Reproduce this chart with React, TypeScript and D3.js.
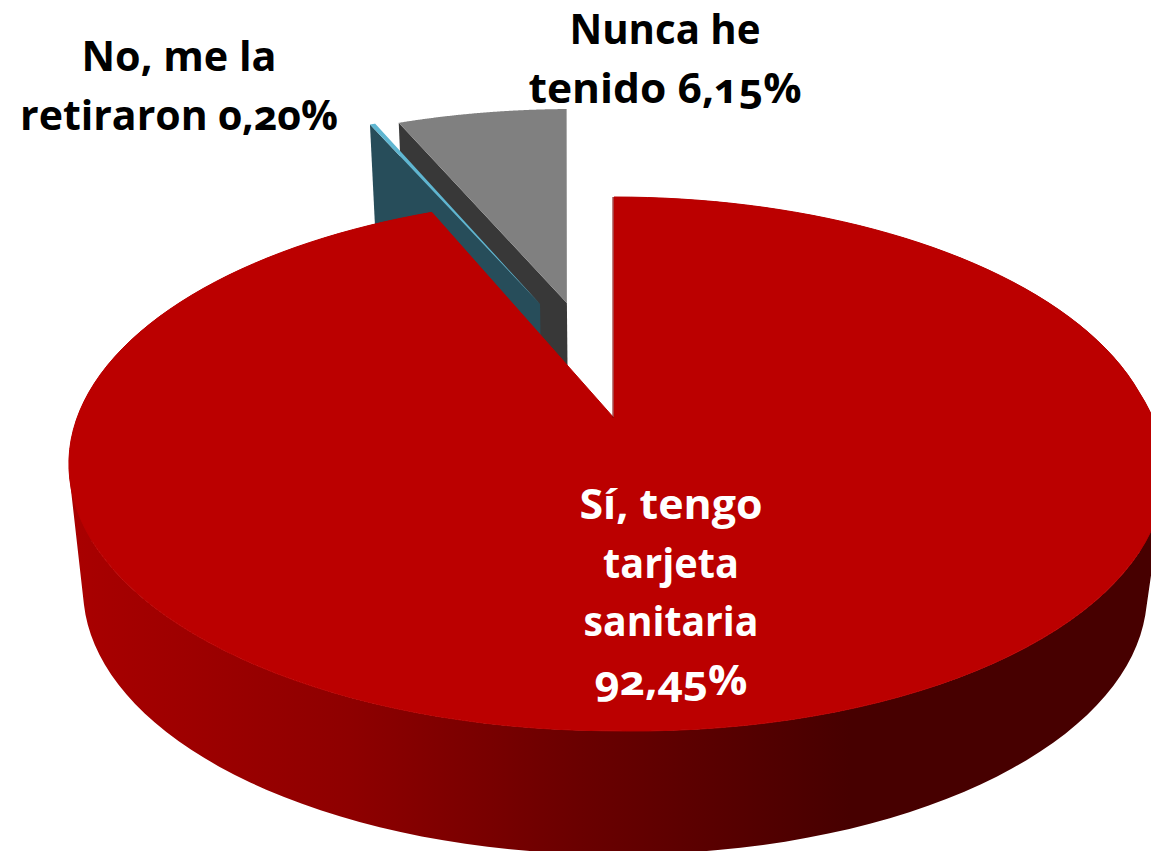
import React, { useEffect, useRef } from "react";
import * as d3 from "d3";

const categories = ["Sí, tengo tarjeta sanitaria", "No, me la retiraron", "Nunca he tenido"];
const values = [92.45, 0.2, 6.15];
const labelLines = [
  ["Sí, tengo", "tarjeta", "sanitaria", "92,45%"],
  ["No, me la", "retiraron 0,20%"],
  ["Nunca he", "tenido 6,15%"],
];

const width = 1151, height = 851;
const topFill = ["#bb0000", "#5fb6d1", "#808080"];
const wallFill = ["url(#rimShade)", "#274d5a", "#383838"];
// pull-out of each slice on the unit disc, x then toward the viewer
const offsets = [[0, 0], [-0.149, -0.476], [-0.095, -0.481]];
const tilt = [0, (-0.9 * Math.PI) / 180, (-0.9 * Math.PI) / 180];
const radius = [1, 1.02, 1.02];
const labelX = [671, 179, 665];
const labelY = [519, 71, 44];
const labelFill = ["#ffffff", "#000000", "#000000"];
const lineWidths = [[183, 136, 175, 153], [195, 318], [191, 273]];
const lineGap = 58.5;

const cx = 614, persp = 0.172;
const face = { y: 418, rx: 537, ry: 259, bulge: 0.035 };
const base = { y: 544, rx: 523, ry: 257, bulge: 0.015 };

// the disc is drawn a little fuller on its front right quarter
function project(plane: typeof face, u: number, v: number): [number, number] {
  const w = 1 - persp * v;
  const b = 1 + plane.bulge * Math.max(0, u) * Math.max(0, v + 0.1);
  return [cx + (b * plane.rx * u) / w, plane.y + (b * plane.ry * v) / w];
}

export default function App() {
  const ref = useRef<SVGSVGElement>(null);

  useEffect(() => {
    const svg = d3.select(ref.current);
    svg.selectAll("*").remove();

    const grad = svg.append("defs").append("linearGradient")
      .attr("id", "rimShade").attr("gradientUnits", "userSpaceOnUse")
      .attr("x1", 80).attr("x2", 850).attr("y1", 0).attr("y2", 0);
    grad.append("stop").attr("offset", 0).attr("stop-color", "#a80000");
    grad.append("stop").attr("offset", 0.35).attr("stop-color", "#8e0000");
    grad.append("stop").attr("offset", 0.65).attr("stop-color", "#6a0000");
    grad.append("stop").attr("offset", 1).attr("stop-color", "#470000");

    const slices = d3.pie<number>().sort(null)(values);
    const line = d3.line().curve(d3.curveLinearClosed);
    const order = [2, 1, 0];

    order.forEach((i) => {
      const s = slices[i];
      const [ou, ov] = offsets[i];
      const angles = d3.range(0, 161).map((k) => s.startAngle + ((s.endAngle - s.startAngle) * k) / 160 + tilt[i]);
      const rim = angles.map((a) => [ou + radius[i] * Math.sin(a), ov - radius[i] * Math.cos(a)]);
      const faceRim = rim.map(([u, v]) => project(face, u, v));
      const baseRim = rim.map(([u, v]) => project(base, u, v));
      const apexTop = project(face, ou, ov);
      const apexBase = project(base, ou, ov);

      if (i > 0) {
        // exploded slices show the cut face on their left side
        svg.append("path").attr("fill", wallFill[i])
          .attr("d", line([apexTop, faceRim[0], baseRim[0], apexBase]));
      } else {
        // side wall as one path of same-wound quads, so the silhouette is the full hull
        const quads = d3.range(faceRim.length - 1).map((k) => {
          const q = [faceRim[k], faceRim[k + 1], baseRim[k + 1], baseRim[k]] as [number, number][];
          return line(d3.polygonArea(q) < 0 ? q.reverse() : q);
        });
        svg.append("path").attr("fill", wallFill[i]).attr("d", quads.join(""));
      }
      svg.append("path")
        .attr("fill", topFill[i])
        .attr("stroke", i === 0 ? topFill[i] : "none")
        .attr("stroke-width", 1)
        .attr("stroke-linejoin", "round")
        .attr("d", line([apexTop, ...faceRim]));
    });

    // dark hairline on the red slice's straight edge
    const edgeTop = project(face, 0, -1);
    const edgeApex = project(face, 0, 0);
    svg.append("line")
      .attr("x1", edgeTop[0] - 1).attr("y1", edgeTop[1]).attr("x2", edgeApex[0] - 1).attr("y2", edgeApex[1])
      .attr("stroke", "#7a0000").attr("stroke-width", 1);

    categories.forEach((name, i) => {
      const g = svg.append("g");
      g.append("title").text(name);
      labelLines[i].forEach((l, j) => {
        g.append("text")
          .attr("x", labelX[i] - lineWidths[i][j] / 2)
          .attr("y", labelY[i] + j * lineGap)
          .attr("textLength", lineWidths[i][j])
          .attr("lengthAdjust", "spacingAndGlyphs")
          .attr("fill", labelFill[i])
          .style("font-family", "'Open Sans', sans-serif")
          .style("font-weight", 700)
          .style("font-size", "41px")
          .style("font-variant-numeric", "oldstyle-nums")
          .text(l);
      });
    });
  }, []);

  return <svg ref={ref} width={width} height={height} style={{ position: "absolute", left: 0, top: 0, background: "#fff" }} />;
}
